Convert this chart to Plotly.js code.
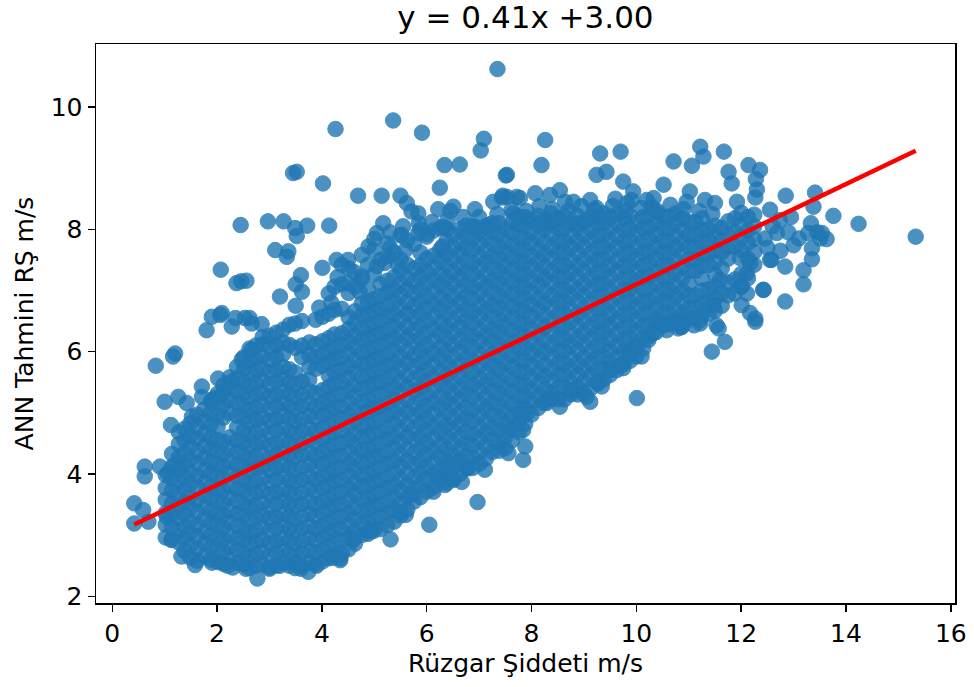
<!DOCTYPE html>
<html>
<head>
<meta charset="utf-8">
<script src="https://cdn.plot.ly/plotly-3.0.1.min.js"></script>
<style>html,body{margin:0;padding:0;background:#fff;}#chart{width:974px;height:687px;}</style>
</head>
<body>
<div id="chart"></div>
<script>
// Fit shown in the title
const fitSlope = 0.41;
const fitIntercept = 3.00;
const titleText = "y = 0.41x +3.00";
const xLabel = "Rüzgar Şiddeti m/s";
const yLabel = "ANN Tahmini RŞ m/s";
const xTicks = [0, 2, 4, 6, 8, 10, 12, 14, 16];
const yTicks = [2, 4, 6, 8, 10];

// Dense core of the cloud, read column by column: [windSpeed, ann1, ann2, ...]
const coreLowWind = [
  [1.02, 2.96,3.17,3.36,3.58,3.77,3.98],
  [1.14, 2.93,3.13,3.33,3.52,3.73,3.93,4.12,4.33],
  [1.27, 2.88,3.07,3.29,3.48,3.67,3.89,4.08,4.27,4.49,4.68],
  [1.38, 2.74,2.95,3.14,3.35,3.54,3.75,3.94,4.15,4.34,4.55,4.74],
  [1.49, 2.63,2.82,3.03,3.22,3.44,3.62,3.83,4.02,4.23,4.44,4.62,4.83],
  [1.62, 2.58,2.78,2.98,3.17,3.38,3.57,3.78,3.97,4.18,4.37,4.58,4.77,4.97],
  [1.76, 2.66,2.87,3.06,3.27,3.46,3.66,3.87,4.06,4.27,4.46,4.65,4.86,5.06],
  [1.88, 2.60,2.81,3.00,3.21,3.40,3.61,3.80,4.01,4.20,4.41,4.60,4.81,5.00,5.18],
  [2.01, 2.56,2.77,2.96,3.17,3.36,3.57,3.76,3.97,4.16,4.37,4.56,4.77,4.96,5.17,5.31],
  [2.12, 2.53,2.73,2.93,3.12,3.33,3.52,3.73,3.92,4.13,4.32,4.53,4.92,5.13,5.32,5.45],
  [2.24, 2.60,2.81,3.00,3.21,3.40,3.61,3.80,4.01,4.20,4.41,4.60,5.00,5.21,5.40,5.58],
  [2.38, 2.55,2.76,2.95,3.16,3.35,3.56,3.75,3.96,4.15,4.36,4.55,4.76,4.95,5.16,5.35,5.56,5.75],
  [2.51, 2.52,2.71,2.92,3.11,3.32,3.51,3.72,3.91,4.12,4.31,4.52,4.71,4.92,5.11,5.32,5.51,5.72,5.91],
  [2.62, 2.46,2.66,2.86,3.05,3.26,3.45,3.66,3.85,4.06,4.25,4.46,4.65,4.86,5.05,5.26,5.45,5.66,5.85,6.05],
  [2.74, 2.50,2.69,2.90,3.09,3.30,3.49,3.70,3.89,4.10,4.29,4.50,4.69,4.90,5.09,5.30,5.49,5.70,5.89,6.10],
  [2.87, 2.52,2.73,2.92,3.13,3.32,3.53,3.72,3.93,4.12,4.33,4.52,4.73,4.92,5.13,5.32,5.53,5.72,5.93,6.12,6.24],
  [3.00, 2.47,2.66,2.87,3.06,3.27,3.46,3.67,3.86,4.07,4.26,4.47,4.66,4.87,5.06,5.27,5.46,5.67,5.86,6.07,6.26],
  [3.13, 2.50,2.71,2.90,3.11,3.30,3.51,3.70,3.91,4.10,4.31,4.50,4.71,4.90,5.11,5.30,5.51,5.70,5.91,6.10,6.31],
  [3.26, 2.55,2.76,2.95,3.16,3.35,3.56,3.75,3.96,4.15,4.36,4.55,4.76,4.95,5.16,5.35,5.56,5.75,5.96,6.15,6.36],
  [3.38, 2.50,2.70,2.91,3.10,3.31,3.50,3.71,3.90,4.11,4.30,4.51,4.70,4.91,5.10,5.31,5.50,5.71,6.11,6.44],
  [3.49, 2.46,2.67,2.86,3.07,3.26,3.47,3.66,3.87,4.06,4.27,4.46,4.67,4.86,5.07,5.26,5.47,5.66,6.06,6.46],
  [3.62, 2.50,2.71,2.90,3.11,3.30,3.51,3.70,3.91,4.10,4.31,4.50,4.71,4.90,5.11,5.30,5.51,5.91,6.10,6.50],
  [3.76, 2.55,2.74,2.95,3.14,3.35,3.54,3.75,3.94,4.15,4.34,4.55,4.74,4.95,5.14,5.35,5.54,5.75,5.94,6.15],
  [3.88, 2.52,2.72,2.92,3.11,3.32,3.51,3.72,3.91,4.12,4.31,4.52,4.71,4.92,5.11,5.32,5.72,5.91,6.12,6.52],
  [4.01, 2.57,2.76,2.97,3.16,3.37,3.56,3.77,3.96,4.17,4.36,4.57,4.76,4.97,5.16,5.37,5.77,5.96,6.17,6.57],
  [4.13, 2.62,2.82,3.02,3.21,3.42,3.61,3.82,4.01,4.22,4.41,4.62,4.81,5.02,5.21,5.42,5.61,5.82,6.01,6.22,6.62,6.95]
];
const coreMidWind = [
  [4.24, 2.68,2.87,3.08,3.27,3.48,3.67,3.88,4.07,4.28,4.47,4.68,4.87,5.08,5.27,5.48,5.67,5.88,6.07,6.28,6.68,7.06],
  [4.38, 2.70,2.91,3.10,3.31,3.50,3.71,3.90,4.11,4.30,4.51,4.70,4.91,5.10,5.31,5.50,5.71,5.90,6.11,6.30,6.70,7.10],
  [4.51, 2.77,2.96,3.17,3.36,3.57,3.76,3.97,4.16,4.37,4.56,4.77,4.96,5.17,5.36,5.57,5.76,5.97,6.16,6.37,6.56,6.96,7.36],
  [4.63, 2.86,3.06,3.27,3.46,3.67,3.86,4.07,4.26,4.47,4.66,4.87,5.06,5.27,5.46,5.67,5.86,6.07,6.26,6.47,6.66,7.06],
  [4.76, 3.00,3.19,3.40,3.59,3.80,3.99,4.20,4.39,4.60,4.79,5.00,5.19,5.40,5.59,5.80,5.99,6.20,6.39,6.60,6.79,7.19,7.58],
  [4.88, 3.02,3.22,3.42,3.61,3.82,4.01,4.22,4.41,4.62,4.81,5.02,5.21,5.42,5.61,5.82,6.01,6.22,6.41,6.62,6.81,7.02,7.42],
  [4.99, 3.07,3.26,3.47,3.66,3.87,4.06,4.27,4.46,4.67,4.86,5.07,5.26,5.47,5.66,5.87,6.06,6.27,6.46,6.67,6.86,7.26,7.66],
  [5.12, 3.10,3.31,3.50,3.71,3.90,4.11,4.30,4.51,4.70,4.91,5.10,5.31,5.50,5.71,5.90,6.11,6.30,6.51,6.70,6.91,7.10,7.50],
  [5.25, 3.16,3.37,3.56,3.77,3.96,4.17,4.36,4.57,4.76,4.97,5.16,5.37,5.56,5.77,5.96,6.17,6.36,6.57,6.76,6.97,7.16,7.56,7.77],
  [5.38, 3.22,3.42,3.62,3.81,4.02,4.21,4.42,4.61,4.82,5.01,5.22,5.41,5.62,5.81,6.02,6.21,6.42,6.61,6.82,7.01,7.22,7.62],
  [5.50, 3.32,3.51,3.72,3.91,4.12,4.31,4.52,4.71,4.92,5.11,5.32,5.51,5.72,5.91,6.12,6.31,6.52,6.71,6.92,7.11,7.32,7.51,7.90],
  [5.63, 3.42,3.62,3.82,4.01,4.22,4.41,4.62,4.81,5.02,5.21,5.42,5.61,5.82,6.01,6.22,6.41,6.62,6.81,7.02,7.21,7.42,7.82],
  [5.76, 3.55,3.76,3.95,4.16,4.35,4.56,4.75,4.96,5.15,5.36,5.55,5.76,5.95,6.16,6.35,6.56,6.75,6.96,7.15,7.36,7.76],
  [5.88, 3.62,3.82,4.02,4.21,4.42,4.61,4.82,5.01,5.22,5.41,5.62,5.81,6.02,6.21,6.42,6.61,6.82,7.01,7.22,7.41,7.62,8.00],
  [6.00, 3.71,3.92,4.11,4.32,4.51,4.72,4.91,5.12,5.31,5.52,5.71,5.92,6.11,6.32,6.51,6.72,6.91,7.12,7.31,7.52,7.92],
  [6.13, 3.78,3.98,4.18,4.37,4.58,4.77,4.98,5.17,5.38,5.57,5.78,5.97,6.18,6.37,6.58,6.77,6.98,7.17,7.38,7.57,7.98],
  [6.26, 3.88,4.07,4.28,4.47,4.68,4.87,5.08,5.27,5.48,5.67,5.88,6.07,6.28,6.47,6.68,6.87,7.08,7.27,7.48,7.67,8.02],
  [6.38, 3.85,4.02,4.22,4.41,4.62,4.81,5.02,5.21,5.42,5.61,5.82,6.01,6.22,6.41,6.62,6.81,7.02,7.21,7.42,7.61,7.82,8.01],
  [6.50, 3.92,4.11,4.32,4.51,4.72,4.91,5.12,5.31,5.52,5.71,5.92,6.11,6.32,6.51,6.72,6.91,7.12,7.31,7.52,7.71,7.92],
  [6.63, 4.00,4.20,4.40,4.59,4.80,4.99,5.20,5.39,5.60,5.79,6.00,6.19,6.40,6.59,6.80,6.99,7.20,7.39,7.60,7.79,8.00],
  [6.75, 4.10,4.29,4.50,4.69,4.90,5.09,5.30,5.49,5.70,5.89,6.10,6.29,6.50,6.69,6.90,7.09,7.30,7.49,7.70,7.89,8.06],
  [6.88, 4.10,4.27,4.47,4.66,4.87,5.06,5.27,5.46,5.67,5.86,6.07,6.26,6.47,6.66,6.87,7.06,7.27,7.46,7.67,7.86,8.05],
  [7.01, 4.17,4.36,4.57,4.76,4.97,5.16,5.37,5.56,5.77,5.96,6.17,6.36,6.57,6.76,6.97,7.16,7.37,7.56,7.77,7.96],
  [7.13, 4.25,4.46,4.66,4.85,5.06,5.25,5.46,5.65,5.86,6.05,6.26,6.45,6.66,6.85,7.06,7.25,7.46,7.65,7.86,8.05],
  [7.25, 4.36,4.57,4.76,4.97,5.16,5.37,5.56,5.77,5.96,6.17,6.36,6.57,6.76,6.97,7.16,7.37,7.56,7.77,7.96,8.10],
  [7.38, 4.38,4.52,4.72,4.91,5.12,5.31,5.52,5.71,5.92,6.11,6.32,6.51,6.72,6.91,7.12,7.31,7.52,7.71,7.92,8.10],
  [7.50, 4.42,4.61,4.82,5.01,5.22,5.41,5.62,5.81,6.02,6.21,6.42,6.61,6.82,7.01,7.22,7.41,7.62,7.81,8.02],
  [7.63, 4.55,4.76,4.96,5.15,5.36,5.55,5.76,5.95,6.16,6.35,6.56,6.75,6.96,7.15,7.36,7.55,7.76,7.95,8.12],
  [7.76, 4.68,4.87,5.08,5.27,5.48,5.67,5.88,6.07,6.28,6.47,6.68,6.87,7.08,7.27,7.48,7.67,7.88,8.08],
  [7.88, 4.82,5.06,5.26,5.45,5.66,5.85,6.06,6.25,6.46,6.65,6.86,7.05,7.26,7.45,7.66,7.85,8.06,8.20],
  [8.00, 4.97,5.16,5.37,5.56,5.77,5.96,6.17,6.36,6.57,6.76,6.97,7.16,7.37,7.56,7.77,7.96,8.15]
];
const coreHighWind = [
  [8.13, 5.08,5.28,5.48,5.67,5.88,6.07,6.28,6.47,6.68,6.87,7.08,7.27,7.48,7.67,7.88,8.07,8.22],
  [8.25, 5.20,5.39,5.60,5.79,6.00,6.19,6.40,6.59,6.80,6.99,7.20,7.39,7.60,7.79,8.00,8.16],
  [8.38, 5.22,5.32,5.52,5.71,5.92,6.11,6.32,6.51,6.72,6.91,7.12,7.31,7.52,7.71,7.92,8.11,8.26],
  [8.51, 5.22,5.41,5.62,5.81,6.02,6.21,6.42,6.61,6.82,7.01,7.22,7.41,7.62,7.81,8.02,8.19],
  [8.63, 5.22,5.42,5.62,5.81,6.02,6.21,6.42,6.61,6.82,7.01,7.22,7.41,7.62,7.81,8.02,8.21],
  [8.75, 5.30,5.49,5.70,5.89,6.10,6.29,6.50,6.69,6.90,7.09,7.30,7.49,7.70,7.89,8.10],
  [8.88, 5.30,5.42,5.62,5.81,6.02,6.21,6.42,6.61,6.82,7.01,7.22,7.41,7.62,7.81,8.02,8.22],
  [9.00, 5.32,5.51,5.72,5.91,6.12,6.31,6.52,6.71,6.92,7.11,7.32,7.51,7.72,7.91,8.12],
  [9.13, 5.40,5.61,5.81,6.00,6.21,6.40,6.61,6.80,7.01,7.20,7.41,7.60,7.81,8.00,8.20],
  [9.25, 5.50,5.69,5.90,6.09,6.30,6.49,6.70,6.89,7.10,7.29,7.50,7.69,7.90,8.09],
  [9.38, 5.55,5.72,5.92,6.11,6.32,6.51,6.72,6.91,7.12,7.31,7.52,7.71,7.92,8.11,8.26],
  [9.50, 5.62,5.81,6.02,6.21,6.42,6.61,6.82,7.01,7.22,7.41,7.62,7.81,8.02,8.20],
  [9.63, 5.70,5.90,6.10,6.29,6.50,6.69,6.90,7.09,7.30,7.49,7.70,7.89,8.10,8.25],
  [9.76, 5.80,5.99,6.20,6.39,6.60,6.79,7.00,7.19,7.40,7.59,7.80,7.99,8.18],
  [9.88, 5.85,6.02,6.22,6.41,6.62,6.81,7.02,7.21,7.42,7.61,7.82,8.01,8.22],
  [10.00, 5.92,6.11,6.32,6.51,6.72,6.91,7.12,7.31,7.52,7.71,7.92,8.11],
  [10.13, 6.05,6.22,6.42,6.61,6.82,7.01,7.22,7.41,7.62,7.81,8.02,8.20],
  [10.25, 6.25,6.44,6.65,6.84,7.05,7.24,7.45,7.64,7.85,8.04,8.24],
  [10.38, 6.32,6.52,6.72,6.91,7.12,7.31,7.52,7.71,7.92,8.11,8.28],
  [10.50, 6.42,6.61,6.82,7.01,7.22,7.41,7.62,7.81,8.02,8.21],
  [10.63, 6.45,6.62,6.82,7.01,7.22,7.41,7.62,7.81,8.02,8.21],
  [10.75, 6.50,6.69,6.90,7.09,7.30,7.49,7.70,7.89,8.10,8.26],
  [10.88, 6.50,6.60,6.80,6.99,7.20,7.39,7.60,7.79,8.00,8.19],
  [11.00, 6.52,6.71,6.92,7.11,7.32,7.51,7.72,7.91,8.12],
  [11.13, 6.55,6.72,6.92,7.32,7.51,7.72,7.91,8.12],
  [11.25, 6.60,6.79,7.00,7.19,7.40,7.59,7.80,7.99,8.18],
  [11.38, 6.62,6.82,7.02,7.42,7.61,7.82,8.01],
  [11.50, 6.67,6.86,7.07,7.26,7.47,7.66,7.87,8.06],
  [11.63, 6.75,6.96,7.36,7.62,7.82,8.02],
  [11.75, 6.92,7.13,7.52,7.71,7.92,8.13],
  [11.88, 6.95,7.18,7.72,7.95,8.18],
  [12.00, 7.06,7.27,7.66,7.87,8.08,8.27],
  [12.13, 7.20,7.52,7.78,7.98,8.20],
  [12.25, 7.42,7.63,7.84,8.05,8.24]
];

// Scattered points around the core: [windSpeed, ann]
const sparseLeft = [
  [0.42,3.19],[0.42,3.52],[0.59,3.41],[0.69,3.22],[0.62,4.12],[0.62,3.96],[0.91,4.12],[1.20,4.15],[1.06,4.01],
  [0.83,5.77],[1.20,5.97],[1.16,5.92],[1.00,5.18],[1.26,5.26],[1.42,5.16],[1.52,4.94],[1.71,5.43],[1.71,5.26],
  [1.96,5.24],[1.12,4.80],[2.02,5.56],[2.28,5.51],[1.90,5.21],[2.47,5.87],[2.66,6.03],[1.80,6.35],[2.06,6.60],
  [2.28,6.41],[2.53,6.55],[2.66,6.46],[1.13,2.92],[1.32,2.65],[1.58,2.51],[2.77,2.29],[2.30,2.47],[2.55,2.45],
  [1.90,2.55],[2.20,2.50],[3.00,2.45],[3.20,2.50],[3.50,2.55],[3.60,2.45],[3.90,2.50],[1.04,3.30],[1.90,6.57],
  [2.09,6.63],[2.35,6.55],[2.62,6.55],[2.85,6.45]
];
const sparseUpper = [
  [2.45,8.07],[2.97,8.13],[3.27,8.13],[3.49,8.02],[3.72,8.06],[3.52,7.89],[4.14,8.06],[3.11,7.66],[3.36,7.64],
  [3.33,7.55],[2.07,7.34],[2.37,7.12],[2.56,7.16],[2.46,7.15],[3.20,6.90],[3.50,7.10],[3.60,7.25],[3.62,6.98],
  [3.50,6.75],[4.01,7.37],[4.28,7.50],[4.50,7.50],[4.38,7.42],[4.89,7.72],[5.05,7.94],[5.17,8.10],[5.00,7.84],
  [4.26,9.64],[5.36,9.78],[5.91,9.58],[7.09,9.48],[7.03,9.29],[6.34,9.05],[6.63,9.06],[7.51,8.88],[3.45,8.92],
  [3.52,8.94],[4.02,8.75],[4.69,8.55],[5.14,8.55],[5.50,8.55],[5.62,8.43],[5.84,8.26],[5.71,8.29],[6.25,8.68],
  [6.22,8.33],[6.51,8.37],[6.45,8.30],[6.92,8.33],[7.35,10.62],[7.27,8.45],[7.44,8.52],[7.72,8.53],[7.62,8.32],
  [7.75,8.21],[6.92,8.04],[7.18,8.07],[5.52,7.91],[5.84,7.94],[6.00,7.88],[6.32,8.04],[6.30,7.72],[5.59,7.66],
  [5.20,7.45],[4.76,7.23],[4.50,7.12],
  [3.95,6.72],[4.18,6.80],[4.30,7.22],[4.62,7.30],[4.72,6.98],[5.05,7.40],[5.30,7.70],[5.45,7.42],
  [8.26,9.46],[8.19,9.05],[7.53,8.89],[9.31,9.24],[9.70,9.27],[9.24,8.89],[9.43,8.94],[9.75,8.78],[10.71,9.11],
  [11.22,9.35],[11.28,9.19],[11.06,9.04],[11.67,9.27],[11.76,8.94],[11.82,8.75],[12.14,9.05],[12.36,8.97],
  [12.28,8.82],[11.92,8.45],[12.27,8.52],[12.30,8.65],[10.52,8.73],[10.33,8.51],[10.29,8.37],[9.94,8.62],
  [9.91,8.48],[9.82,8.43],[9.12,8.48],[9.24,8.35],[11.02,8.62],[10.96,8.45],[11.31,8.48],[11.50,8.43],
  [8.54,8.64],[8.64,8.45],[8.35,8.56],[8.07,8.59],[7.78,8.51],[7.53,8.53],[7.65,8.26],[7.45,8.55],
  [9.05,8.15],[9.31,8.20],[8.87,8.10],[8.48,8.15],[8.22,8.10],
  [7.90,8.30],[8.15,8.38],[8.40,8.33],[8.70,8.30],[8.95,8.38],[9.20,8.32],[9.55,8.38],[9.80,8.30],[10.10,8.35],
  [10.40,8.30],[10.65,8.40],[10.90,8.33],[11.20,8.30],[11.45,8.25],[8.80,8.45],[9.60,8.50],[10.20,8.48],
  [7.35,8.25],[7.00,8.20],[6.70,8.20],[6.40,8.15],[6.10,8.12],[5.85,8.10],[5.55,8.05],[5.30,7.95]
];
const sparseLower = [
  [3.74,2.40],[4.35,2.59],[4.60,2.92],[4.92,3.06],[5.31,2.93],[5.60,3.33],[6.05,3.17],[6.13,3.71],[6.35,3.82],
  [6.67,3.87],[6.79,4.09],[7.11,4.07],[6.97,3.54],[7.56,4.34],[7.84,4.23],[7.88,4.45],[7.91,4.99],[8.29,5.16],
  [7.84,4.72],[8.23,5.16],[8.54,5.10],[9.12,5.18],[9.34,5.43],[9.75,5.73],[10.01,5.24],[10.10,5.92],[10.45,6.46],
  [10.80,6.38],[11.22,6.46],[6.38,4.15],[6.60,4.20],[6.22,3.96],[6.51,3.90],[5.71,3.66],[5.49,3.38],[4.60,2.95],
  [4.93,3.07],[4.20,2.63],[4.35,2.62],[7.59,4.72],[7.78,4.99],[8.35,5.24],[8.74,5.37],[9.05,5.26],[9.27,5.48],
  [9.50,5.70],[9.69,5.78],[9.88,5.97],[10.01,6.08],[10.23,6.19],[10.32,6.30],[10.58,6.35],[10.86,6.40],[11.10,6.43]
];
const sparseRight = [
  [15.33,7.88],[14.24,8.09],[13.76,8.22],[13.63,7.84],[13.41,8.60],[13.38,8.37],[13.33,8.10],[13.19,7.33],
  [13.19,7.10],[13.35,7.51],[12.85,8.55],[12.84,6.82],[12.42,7.01],[12.27,6.54],[12.27,6.49],[11.53,6.43],[11.57,6.38],
  [11.69,6.16],[11.44,6.00],[12.01,6.76],[12.11,6.95],[12.55,8.32],[12.74,8.15],[12.68,7.94],[12.58,7.50],
  [12.84,7.39],[13.00,7.74],[13.28,7.94],[13.51,7.85],[13.35,7.69],[11.47,6.76],[11.22,6.52],[10.87,6.41],
  [12.01,7.07],[11.60,7.17],[12.11,7.28],[12.17,7.45],[11.98,7.53],[12.45,7.85],[12.60,8.05],[12.90,7.95],
  [12.95,8.20],[13.10,7.85],[12.50,7.70],[12.75,7.65],[13.45,7.95],[13.54,7.94],[12.43,7.01],[12.17,6.63],[12.55,7.50]
];

// Build x / y arrays for the scatter trace
const windSpeed = [];
const annPrediction = [];
[coreLowWind, coreMidWind, coreHighWind].forEach(group => {
  group.forEach(col => {
    for (let i = 1; i < col.length; i++) { windSpeed.push(col[0]); annPrediction.push(col[i]); }
  });
});
[sparseLeft, sparseUpper, sparseLower, sparseRight].forEach(group => {
  group.forEach(p => { windSpeed.push(p[0]); annPrediction.push(p[1]); });
});

const xMin = Math.min(...windSpeed);
const xMax = Math.max(...windSpeed);
const fitX = [xMin, xMax];
const fitY = fitX.map(v => fitSlope * v + fitIntercept);

const font = "DejaVu Sans, sans-serif";

const traces = [
  {
    type: "scatter", mode: "markers", x: windSpeed, y: annPrediction, hoverinfo: "skip",
    marker: { size: 15.5, color: "#1f77b4", opacity: 0.8, line: { color: "#1f77b4", width: 1 } }
  },
  {
    type: "scatter", mode: "lines", x: fitX, y: fitY, hoverinfo: "skip",
    line: { color: "#ff0000", width: 4.5 }
  }
];

const axisCommon = {
  showgrid: false, zeroline: false, showline: true, mirror: true,
  linecolor: "#000", linewidth: 1.5, ticks: "outside", ticklen: 7, tickwidth: 1.5, tickcolor: "#000",
  tickfont: { family: font, size: 25, color: "#000" }
};

const layout = {
  width: 974, height: 687,
  margin: { l: 96, r: 19, t: 44, b: 84, pad: 0 },
  paper_bgcolor: "#fff", plot_bgcolor: "#fff",
  showlegend: false,
  title: { text: titleText, font: { family: font, size: 31, color: "#000" }, x: 0.5395, xanchor: "center", y: 0.975, yanchor: "middle" },
  xaxis: Object.assign({}, axisCommon, {
    range: [-0.31, 16.08], tickvals: xTicks, ticktext: xTicks.map(String),
    title: { text: xLabel, font: { family: font, size: 25, color: "#000" }, standoff: 8 }
  }),
  yaxis: Object.assign({}, axisCommon, {
    range: [1.89, 11.03], tickvals: yTicks, ticktext: yTicks.map(String),
    title: { text: yLabel, font: { family: font, size: 25, color: "#000" }, standoff: 10 }
  })
};

Plotly.newPlot("chart", traces, layout, { staticPlot: true, displayModeBar: false });
</script>
</body>
</html>
